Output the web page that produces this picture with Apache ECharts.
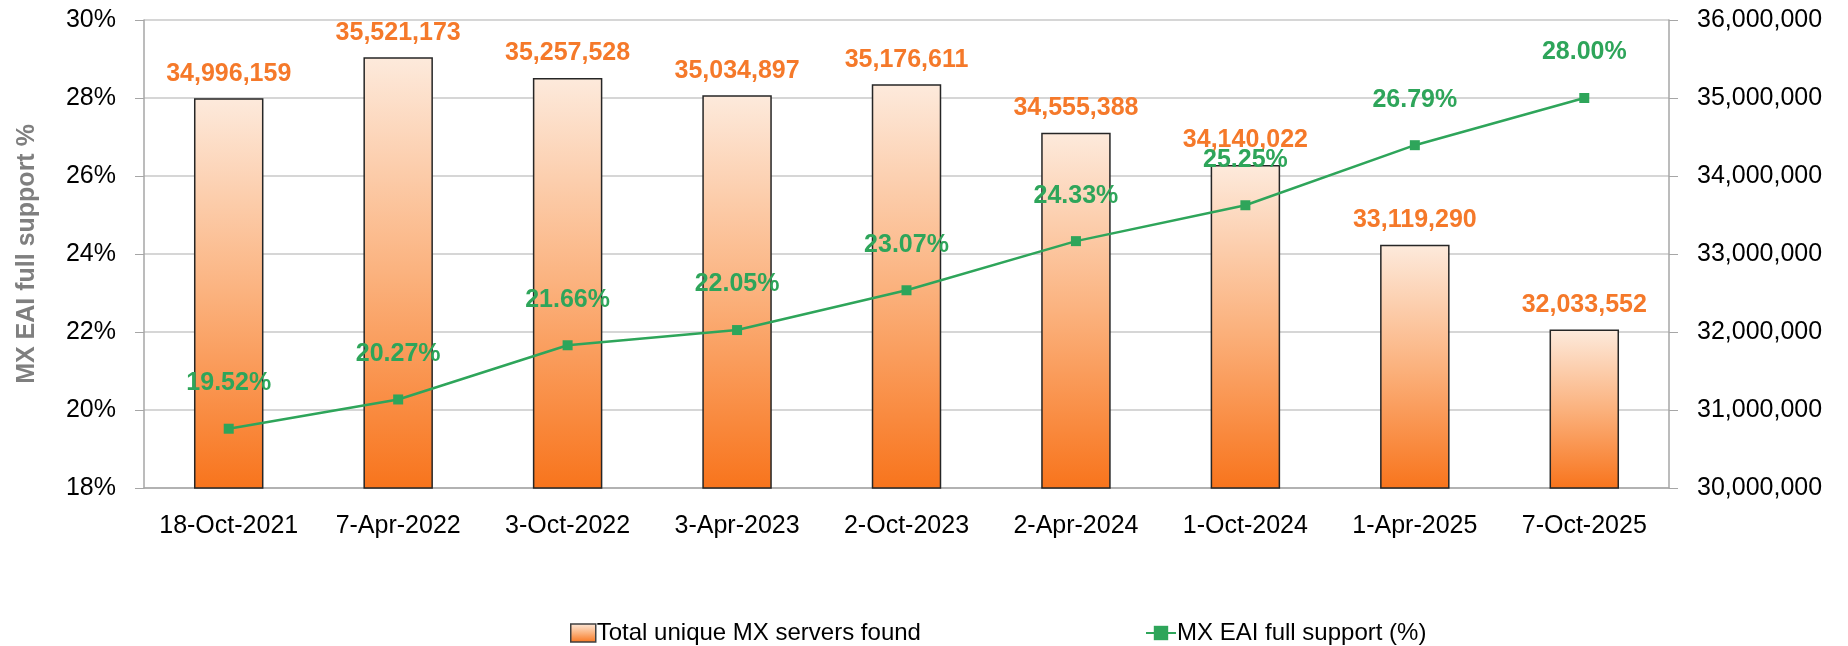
<!DOCTYPE html>
<html>
<head>
<meta charset="utf-8">
<script src="https://cdn.jsdelivr.net/npm/echarts@6/dist/echarts.min.js"></script>
<style>
  html, body { margin:0; padding:0; background:#fff; }
  #chart { width:1848px; height:646px; }
</style>
</head>
<body>
<div id="chart"></div>
<script>
let dates = ['18-Oct-2021','7-Apr-2022','3-Oct-2022','3-Apr-2023','2-Oct-2023','2-Apr-2024','1-Oct-2024','1-Apr-2025','7-Oct-2025'];
let servers = [34996159, 35521173, 35257528, 35034897, 35176611, 34555388, 34140022, 33119290, 32033552];
let eaiPct = [19.52, 20.27, 21.66, 22.05, 23.07, 24.33, 25.25, 26.79, 28.00];
let barName = 'Total unique MX servers found';
let lineName = 'MX EAI full support (%)';

const font = 'Liberation Sans';
const green = '#2ea55a';
const orange = '#f5792a';

let myChart = echarts.init(document.getElementById('chart'));

let option = {
    animation:false,
    textStyle:{ fontFamily:font },
    grid:{
        left:144,
        right:179,
        top:20,
        bottom:158
    },
    legend:[
        {
            left:565,
            top:616,
            data:[barName],
            icon:'rect',
            itemWidth:25,
            itemHeight:18,
            itemGap:0,
            selectedMode:false,
            itemStyle:{ borderColor:'#404040', borderWidth:1.5 },
            textStyle:{ color:'#000', fontSize:24, fontFamily:font, padding:[0,0,0,-4] }
        },
        {
            left:1140,
            top:616,
            data:[lineName],
            itemWidth:30,
            itemHeight:18,
            selectedMode:false,
            textStyle:{ color:'#000', fontSize:24, fontFamily:font, padding:[0,0,0,-4] }
        }
    ],
    xAxis:{
        type:'category',
        data:dates,
        axisLine:{ lineStyle:{ color:'#a6a6a6', width:1.5 } },
        axisTick:{ show:false },
        axisLabel:{ color:'#000', fontSize:25, margin:26, interval:0 }
    },
    yAxis:[
        {
            type:'value',
            min:18,
            max:30,
            interval:2,
            position:'left',
            name:'MX EAI full support %',
            nameLocation:'middle',
            nameGap:104,
            nameRotate:90,
            nameTextStyle:{ color:'#7f7f7f', fontSize:25, fontWeight:'bold' },
            axisLine:{ show:true, lineStyle:{ color:'#a6a6a6', width:1.5 } },
            axisTick:{ show:true, length:9, lineStyle:{ color:'#a6a6a6' } },
            axisLabel:{ color:'#000', fontSize:25, margin:28, formatter:(v)=>v + '%' },
            splitLine:{ show:true, lineStyle:{ color:'#c8c8c8', width:1.5 } }
        },
        {
            type:'value',
            min:30000000,
            max:36000000,
            interval:1000000,
            position:'right',
            axisLine:{ show:true, lineStyle:{ color:'#a6a6a6', width:1.5 } },
            axisTick:{ show:true, length:9, lineStyle:{ color:'#a6a6a6' } },
            axisLabel:{ color:'#000', fontSize:25, margin:28, formatter:(v)=>v.toLocaleString('en-US') },
            splitLine:{ show:false }
        }
    ],
    series:[
        {
            name:barName,
            type:'bar',
            yAxisIndex:1,
            barWidth:'41%',
            data:servers,
            itemStyle:{
                color:{
                    type:'linear',
                    x:0, y:0, x2:0, y2:1,
                    colorStops:[
                        { offset:0, color:'#fdeadc' },
                        { offset:0.5, color:'#fbb27e' },
                        { offset:1, color:'#f8741c' }
                    ]
                },
                borderColor:'#262626',
                borderWidth:1.5
            },
            label:{
                show:true,
                position:'top',
                distance:12,
                color:orange,
                fontSize:25,
                fontWeight:'bold',
                formatter:(p)=>p.value.toLocaleString('en-US')
            },
            z:2
        },
        {
            name:lineName,
            type:'line',
            yAxisIndex:0,
            data:eaiPct,
            symbol:'rect',
            symbolSize:10,
            lineStyle:{ color:green, width:2.5 },
            itemStyle:{ color:green },
            label:{
                show:true,
                position:'top',
                distance:28,
                color:green,
                fontSize:25,
                fontWeight:'bold',
                formatter:(p)=>p.value.toFixed(2) + '%'
            },
            z:5
        }
    ]
};
myChart.setOption(option);
</script>
</body>
</html>
